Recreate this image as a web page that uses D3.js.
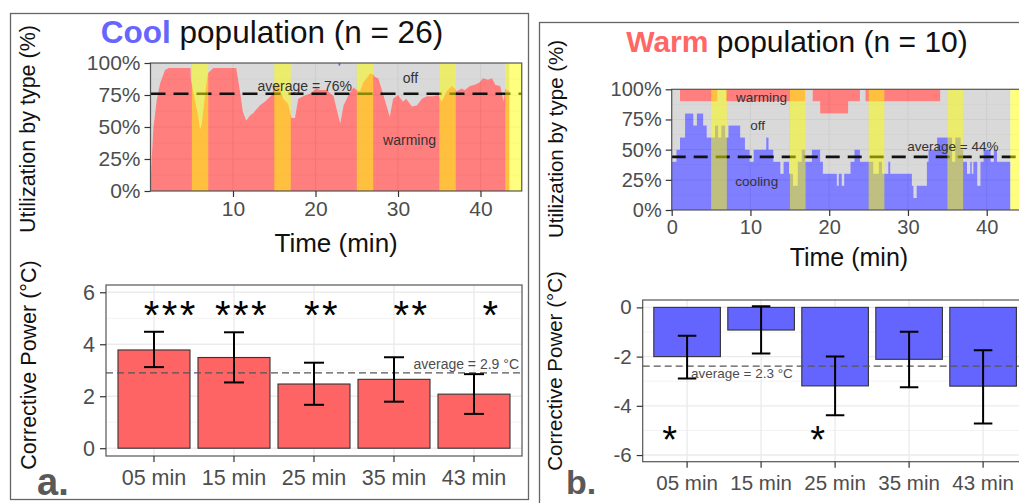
<!DOCTYPE html>
<html><head><meta charset="utf-8">
<script src="https://cdn.jsdelivr.net/npm/d3@7"></script>
<style>body{margin:0;background:#fff;} svg{display:block;font-family:"Liberation Sans",Arial,Helvetica,sans-serif;}</style>
</head><body><svg id="c" width="1019" height="503"></svg>
<script>
// ---------------- DATA ----------------
const categories = ["05 min", "15 min", "25 min", "35 min", "43 min"];
const coolPower = [3.78, 3.49, 2.47, 2.65, 2.08];
const coolLow   = [3.12, 2.53, 1.67, 1.79, 1.32];
const coolHigh  = [4.48, 4.46, 3.29, 3.50, 2.85];
const coolStars = ["***", "***", "**", "**", "*"];
const coolStarShift = [0.21, 0.1, 0.1, 0.22, 0.22];
const coolStarValue = 5.45;
const coolAvgPower = 2.9;

const warmPower = [-2.0, -0.92, -3.19, -2.11, -3.2];
const warmLow   = [-2.89, -1.87, -4.38, -3.25, -4.72];
const warmHigh  = [-1.15, 0.05, -2.0, -0.99, -1.74];
const warmStars = ["*", "", "*", "", ""];
const warmStarShift = [-0.22, 0, -0.22, 0, 0];
const warmStarValue = -5.05;
const warmAvgPower = -2.39;

const stimWindows = [[5, 7], [15, 17], [25, 27], [35, 37], [43, 45]];
const timeTicks = [10, 20, 30, 40];
const timeTicksWarm = [0, 10, 20, 30, 40];
const pctTicks = [0, 25, 50, 75, 100];
const coolAvgUtil = 76;
const warmAvgUtil = 44;

// cool population: % of devices warming, [time (min), %]
const coolWarming = [[0,0],[0.1,20],[0.35,50],[0.75,71],[1.15,84],[1.75,94.5],[2.2,96],[4.86,96],[4.9,87],[5.4,71],[5.8,58],[6.0,48],[6.2,52],[6.4,63],[6.7,80],[6.95,92],[7.6,96],[10.4,96],[10.85,78],[11.2,62],[11.6,55],[12.06,59],[12.46,61],[13.27,67],[13.88,70],[14.7,75],[15.0,82],[15.3,84],[15.7,80],[16.1,72],[16.7,68],[17.1,57],[17.5,57],[17.9,72],[18.5,74],[19.3,76],[20.1,80],[20.6,79],[21.35,79],[22.2,74],[22.6,63],[23.0,53],[23.4,67],[24.0,75],[24.6,81],[25.0,79],[25.4,78],[25.8,85],[26.2,88],[26.6,92],[27.0,91],[27.2,89],[27.6,88],[28.0,80],[28.6,67],[29.0,58],[29.4,72],[30.0,75],[30.6,70],[31.0,72],[31.7,66],[32.3,67],[32.9,72],[33.5,74],[34.3,74],[34.9,75],[35.3,70],[35.9,78],[36.5,82],[36.9,80],[37.1,78],[37.7,80],[38.1,79],[38.7,82],[39.3,83],[39.9,85],[40.3,88],[40.9,87],[41.4,88],[41.8,83],[42.4,82],[42.8,70],[43.0,80],[43.5,78]];
// cool population: % cooling (tiny blip at top)
const coolCooling = [[0,0],[22.8,2],[23.0,0],[43.5,0]];

// warm population: % cooling (stepped), [time (min), %]
const warmCooling = [[0,40],[0.6,50],[1.05,60],[1.7,80],[2.75,70],[3.2,80],[4.0,70],[4.45,60],[5.5,70],[5.9,60],[6.3,70],[6.8,60],[7.2,70],[8.7,60],[9.3,50],[9.9,40],[10.4,50],[12.0,60],[12.3,50],[12.9,40],[13.8,30],[14.2,40],[14.9,30],[15.4,20],[16.0,40],[16.5,50],[16.95,40],[17.8,50],[18.85,40],[19.2,30],[20.97,20],[21.2,30],[21.6,20],[21.9,30],[22.7,40],[23.2,50],[23.9,40],[25.6,30],[26.3,40],[26.7,30],[27.5,40],[27.75,30],[30.5,20],[30.7,10],[31.1,20],[32.4,40],[32.6,50],[33.7,60],[35.6,40],[36.0,60],[36.7,50],[37.0,40],[37.5,30],[37.9,40],[38.1,30],[38.3,40],[38.8,20],[39.2,40],[39.6,50],[40.5,40],[40.9,50],[41.3,40],[43.0,40]];
// warm population: % warming, drawn down from the top
const warmWarming = [[0,0],[1.05,10],[5.8,0],[6.9,10],[16.95,0],[17.9,10],[18.85,20],[22.4,10],[23.9,0],[24.6,10],[34.1,0],[43.0,0]];

// ---------------- DRAW ----------------
const svg = d3.select("#c");
const TICKC = "#333333", LABC = "#4d4d4d";

// outer frames
svg.append("rect").attr("x", 10.5).attr("y", 13.5).attr("width", 518).attr("height", 486)
  .attr("fill", "none").attr("stroke", "#666").attr("stroke-width", 1.3);
svg.append("rect").attr("x", 539.5).attr("y", 22.5).attr("width", 500).attr("height", 500)
  .attr("fill", "none").attr("stroke", "#666").attr("stroke-width", 1.3);

function titleText(x, y, size, word, color, rest) {
  const t = svg.append("text").attr("x", x).attr("y", y).attr("text-anchor", "middle")
    .attr("font-size", size);
  t.append("tspan").attr("fill", color).attr("font-weight", "bold").text(word);
  t.append("tspan").attr("fill", "#111").text(rest);
}
titleText(272, 43, 31.5, "Cool", "#6666ff", " population (n = 26)");
titleText(797, 52, 30, "Warm", "#ff6666", " population (n = 10)");

function stepValue(series, t) {
  let v = series[0][1];
  for (const d of series) { if (d[0] <= t) v = d[1]; else break; }
  return v;
}

function utilPanel(o) {
  const g = svg.append("g");
  const x = d3.scaleLinear().domain([0, 45]).range([o.x0, o.x1]);
  const y = d3.scaleLinear().domain([0, 100]).range([o.y1, o.y0]);
  const clipId = "clip" + o.id;
  g.append("clipPath").attr("id", clipId).append("rect")
    .attr("x", o.x0).attr("y", o.y0).attr("width", o.x1 - o.x0).attr("height", o.y1 - o.y0);
  const p = g.append("g").attr("clip-path", `url(#${clipId})`);
  p.append("rect").attr("x", o.x0).attr("y", o.y0).attr("width", o.x1 - o.x0).attr("height", o.y1 - o.y0).attr("fill", "#fff");
  // grid
  d3.range(0, 101, 12.5).forEach(v => p.append("line").attr("x1", o.x0).attr("x2", o.x1)
    .attr("y1", y(v)).attr("y2", y(v)).attr("stroke", "#ebebeb").attr("stroke-width", v % 25 === 0 ? 1.2 : 0.6));
  d3.range(0, 46, 5).forEach(v => p.append("line").attr("y1", o.y0).attr("y2", o.y1)
    .attr("x1", x(v)).attr("x2", x(v)).attr("stroke", "#ebebeb").attr("stroke-width", v % 10 === 0 ? 1.2 : 0.6));

  if (o.kind === "cool") {
    const area0 = d3.area().x(d => x(d[0])).y0(y(0)).y1(d => y(d[1]));
    const areaOff = d3.area().x(d => x(d[0])).y0(d => y(d[1])).y1(y(100));
    p.append("path").datum(coolWarming).attr("d", areaOff).attr("fill", "#b3b3b3").attr("fill-opacity", 0.5);
    p.append("path").datum(coolWarming).attr("d", area0).attr("fill", "#ff0000").attr("fill-opacity", 0.5);
    const areaCool = d3.area().curve(d3.curveStepAfter).x(d => x(d[0])).y0(y(100)).y1(d => y(100 - d[1]));
    p.append("path").datum(coolCooling).attr("d", areaCool).attr("fill", "#0000ff").attr("fill-opacity", 0.6);
  } else {
    const times = Array.from(new Set(warmCooling.map(d => d[0]).concat(warmWarming.map(d => d[0])))).sort((a, b) => a - b);
    const rows = times.map(t => ({ t, c: stepValue(warmCooling, t), w: stepValue(warmWarming, t) }));
    const mk = (lo, hi) => d3.area().curve(d3.curveStepAfter).x(d => x(d.t)).y0(d => y(lo(d))).y1(d => y(hi(d)));
    p.append("path").datum(rows).attr("d", mk(d => d.c, d => 100 - d.w)).attr("fill", "#b3b3b3").attr("fill-opacity", 0.5);
    p.append("path").datum(rows).attr("d", mk(d => 0, d => d.c)).attr("fill", "#0000ff").attr("fill-opacity", 0.5);
    p.append("path").datum(rows).attr("d", mk(d => 100 - d.w, d => 100)).attr("fill", "#ff0000").attr("fill-opacity", 0.5);
  }
  // average line
  p.append("line").attr("x1", o.x0).attr("x2", o.x1).attr("y1", y(o.avg)).attr("y2", y(o.avg))
    .attr("stroke", "#111").attr("stroke-width", 2.6).attr("stroke-dasharray", o.dash);
  // stimulation windows
  stimWindows.forEach(w => p.append("rect").attr("x", x(w[0])).attr("width", x(w[1]) - x(w[0]))
    .attr("y", o.y0).attr("height", o.y1 - o.y0).attr("fill", "#ffff00").attr("fill-opacity", 0.5));
  // labels
  o.labels.forEach(l => g.append("text").attr("x", x(l.t)).attr("y", y(l.v)).attr("text-anchor", "middle")
    .attr("dominant-baseline", "central").attr("font-size", o.small).attr("fill", "#333").text(l.text));
  // panel border
  g.append("rect").attr("x", o.x0).attr("y", o.y0).attr("width", o.x1 - o.x0).attr("height", o.y1 - o.y0)
    .attr("fill", "none").attr("stroke", "#555").attr("stroke-width", 1.2);
  // axes
  const ax = g.append("g").attr("transform", `translate(0,${o.y1})`)
    .call(d3.axisBottom(x).tickValues(o.xticks).tickSize(o.tick).tickPadding(o.pad).tickFormat(d => String(d)));
  const ay = g.append("g").attr("transform", `translate(${o.x0},0)`)
    .call(d3.axisLeft(y).tickValues(pctTicks).tickSize(o.tick).tickPadding(o.pad).tickFormat(d => d + "%"));
  [ax, ay].forEach(a => {
    a.select(".domain").remove();
    a.selectAll("line").attr("stroke", TICKC).attr("stroke-width", 1.2);
    a.selectAll("text").attr("font-size", o.tickFont).attr("fill", LABC).attr("font-family", null);
  });
  // axis titles
  g.append("text").attr("x", (o.x0 + o.x1) / 2 + o.xTitleShift).attr("y", o.xTitleY).attr("text-anchor", "middle")
    .attr("font-size", o.xTitleFont).attr("fill", "#111").text("Time (min)");
  g.append("text").attr("transform", `translate(${o.yTitleX},${o.yTitleC}) rotate(-90)`).attr("text-anchor", "middle")
    .attr("font-size", o.yTitleFont).attr("fill", "#111").text("Utilization by type (%)");
}

utilPanel({ id: "a", kind: "cool", x0: 150.5, x1: 521.75, y0: 63, y1: 191, avg: coolAvgUtil, dash: "15,8",
  xticks: timeTicks, tick: 6, pad: 4, tickFont: 21, small: 14, xTitleShift: 0, xTitleY: 252, xTitleFont: 26,
  yTitleX: 35, yTitleC: 129, yTitleFont: 21.5,
  labels: [{ t: 31.5, v: 88.5, text: "off" }, { t: 31.4, v: 40, text: "warming" }, { t: 18.7, v: 82, text: "average = 76%" }] });

utilPanel({ id: "b", kind: "warm", x0: 671.7, x1: 1026.1, y0: 89.3, y1: 210, avg: warmAvgUtil, dash: "14,8",
  xticks: timeTicksWarm, tick: 6, pad: 4, tickFont: 20, small: 13.5, xTitleShift: 0, xTitleY: 266, xTitleFont: 25,
  yTitleX: 563, yTitleC: 139, yTitleFont: 20.5,
  labels: [{ t: 11.4, v: 93.5, text: "warming" }, { t: 10.9, v: 70, text: "off" }, { t: 10.8, v: 23.5, text: "cooling" }, { t: 35.7, v: 52.5, text: "average = 44%" }] });

function barPanel(o) {
  const g = svg.append("g");
  const x = d3.scaleBand().domain(categories).range([o.x0, o.x1]).paddingInner(0.1).paddingOuter(0.15);
  const y = d3.scaleLinear().domain(o.ydom).range([o.y1, o.y0]);
  const clipId = "clipbar" + o.id;
  g.append("clipPath").attr("id", clipId).append("rect")
    .attr("x", o.x0).attr("y", o.y0).attr("width", o.x1 - o.x0).attr("height", o.y1 - o.y0);
  const p = g.append("g").attr("clip-path", `url(#${clipId})`);
  // grid
  o.minor.forEach(v => p.append("line").attr("x1", o.x0).attr("x2", o.x1).attr("y1", y(v)).attr("y2", y(v))
    .attr("stroke", "#f0f0f0").attr("stroke-width", 0.8));
  o.yticks.forEach(v => p.append("line").attr("x1", o.x0).attr("x2", o.x1).attr("y1", y(v)).attr("y2", y(v))
    .attr("stroke", "#ebebeb").attr("stroke-width", 1.4));
  categories.forEach(c => p.append("line").attr("y1", o.y0).attr("y2", o.y1)
    .attr("x1", x(c) + x.bandwidth() / 2).attr("x2", x(c) + x.bandwidth() / 2).attr("stroke", "#ebebeb").attr("stroke-width", 1.4));
  // bars
  p.selectAll("rect.bar").data(o.values).join("rect").attr("class", "bar")
    .attr("x", (d, i) => x(categories[i])).attr("width", x.bandwidth())
    .attr("y", d => y(Math.max(0, d))).attr("height", d => Math.abs(y(d) - y(0)))
    .attr("fill", o.fill).attr("stroke", "#333").attr("stroke-width", 1.1);
  // average
  p.append("line").attr("x1", o.x0).attr("x2", o.x1).attr("y1", y(o.avg)).attr("y2", y(o.avg))
    .attr("stroke", "#555").attr("stroke-width", 1.3).attr("stroke-dasharray", "7,4");
  g.append("text").attr("x", o.avgX).attr("y", y(o.avg) + o.avgDy).attr("text-anchor", o.avgAnchor)
    .attr("font-size", o.small).attr("fill", "#4d4d4d").text(o.avgText);
  // error bars
  const cw = x.step() * 0.25;
  o.values.forEach((d, i) => {
    const cx = x(categories[i]) + x.bandwidth() / 2;
    const e = p.append("g").attr("stroke", "#000").attr("stroke-width", 2);
    e.append("line").attr("x1", cx).attr("x2", cx).attr("y1", y(o.low[i])).attr("y2", y(o.high[i]));
    e.append("line").attr("x1", cx - cw / 2).attr("x2", cx + cw / 2).attr("y1", y(o.low[i])).attr("y2", y(o.low[i]));
    e.append("line").attr("x1", cx - cw / 2).attr("x2", cx + cw / 2).attr("y1", y(o.high[i])).attr("y2", y(o.high[i]));
  });
  // stars
  o.stars.forEach((s, i) => {
    if (!s) return;
    const cx = x(categories[i]) + x.bandwidth() / 2 + o.starShift[i] * x.step();
    g.append("text").attr("x", cx).attr("y", y(o.starValue) + o.starFont * 0.55).attr("text-anchor", "middle")
      .attr("font-size", o.starFont).attr("letter-spacing", o.starSpacing).attr("fill", "#000").text(s);
  });
  // border
  g.append("rect").attr("x", o.x0).attr("y", o.y0).attr("width", o.x1 - o.x0).attr("height", o.y1 - o.y0)
    .attr("fill", "none").attr("stroke", "#555").attr("stroke-width", 1.2);
  const ax = g.append("g").attr("transform", `translate(0,${o.y1})`)
    .call(d3.axisBottom(x).tickSize(6).tickPadding(o.xpad));
  const ay = g.append("g").attr("transform", `translate(${o.x0},0)`)
    .call(d3.axisLeft(y).tickValues(o.yticks).tickSize(6).tickPadding(5).tickFormat(d => String(d)));
  [ax, ay].forEach(a => {
    a.select(".domain").remove();
    a.selectAll("line").attr("stroke", TICKC).attr("stroke-width", 1.2);
    a.selectAll("text").attr("font-size", o.tickFont).attr("fill", LABC).attr("font-family", null);
  });
  g.append("text").attr("transform", `translate(${o.yTitleX},${o.yTitleC}) rotate(-90)`).attr("text-anchor", "middle")
    .attr("font-size", o.yTitleFont).attr("fill", "#111").text("Corrective Power (\u00b0C)");
  g.append("text").attr("x", o.tagX).attr("y", o.tagY).attr("font-size", o.tagFont).attr("font-weight", "bold")
    .attr("fill", "#595959").text(o.tag);
}

barPanel({ id: "a", x0: 106, x1: 522, y0: 285, y1: 456, ydom: [-0.3, 6.28], yticks: [0, 2, 4, 6], minor: [1, 3, 5],
  values: coolPower, low: coolLow, high: coolHigh, fill: "#ff6464", avg: coolAvgPower,
  avgText: "average = 2.9 \u00b0C", avgX: 519, avgDy: -4, avgAnchor: "end", small: 14,
  stars: coolStars, starShift: coolStarShift, starValue: coolStarValue, starFont: 40, starSpacing: 2.5,
  tickFont: 21.5, xpad: 8, yTitleX: 36, yTitleC: 365, yTitleFont: 21.5, tag: "a.", tagX: 37, tagY: 495, tagFont: 38 });

barPanel({ id: "b", x0: 642.7, x1: 1027.5, y0: 300, y1: 461.7, ydom: [-6.27, 0.3], yticks: [-6, -4, -2, 0], minor: [-5, -3, -1],
  values: warmPower, low: warmLow, high: warmHigh, fill: "#6464ff", avg: warmAvgPower,
  avgText: "average = 2.3 \u00b0C", avgX: 691, avgDy: 12, avgAnchor: "start", small: 13.5,
  stars: warmStars, starShift: warmStarShift, starValue: warmStarValue, starFont: 38, starSpacing: 2.5,
  tickFont: 20.5, xpad: 8, yTitleX: 562, yTitleC: 371, yTitleFont: 20.5, tag: "b.", tagX: 566, tagY: 494, tagFont: 34 });
</script>
</body></html>
